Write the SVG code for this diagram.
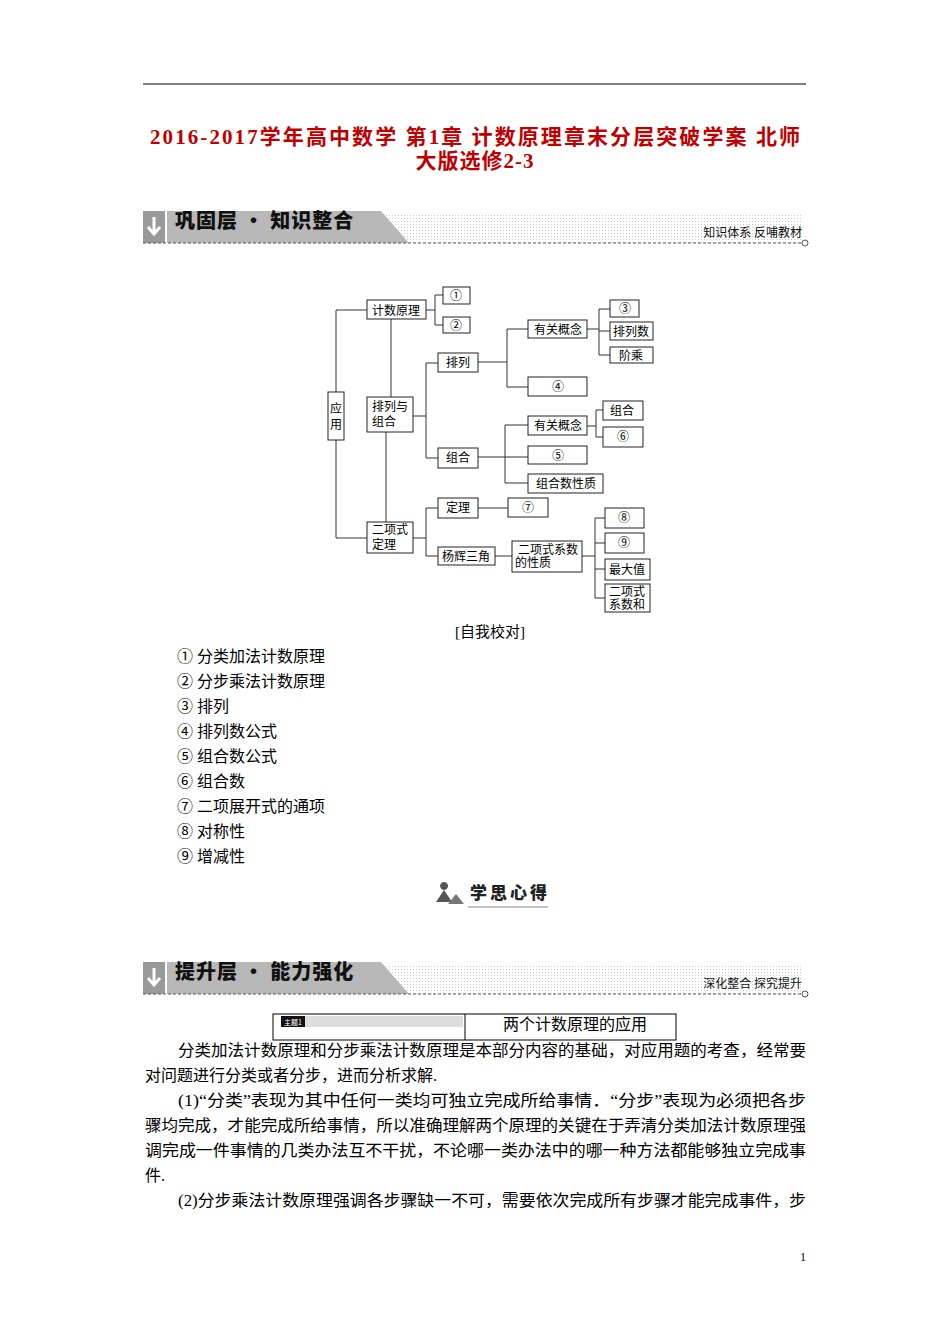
<svg xmlns="http://www.w3.org/2000/svg" width="950" height="1344" viewBox="0 0 950 1344">
<style>
.t{font-family:"Liberation Serif","Noto Sans CJK SC",serif;fill:#000}
.p{font-size:16px}
.n rect{fill:#fff;stroke:#222;stroke-width:1}
.n text{font-family:"Liberation Serif","Noto Sans CJK SC",serif;font-size:12px;fill:#000;text-anchor:middle}
#connectors path{fill:none;stroke:#333;stroke-width:1}
.bn{font-family:"Noto Sans CJK SC",sans-serif;font-weight:900;font-size:20px;fill:#111}
.bs{font-family:"Noto Sans CJK SC",sans-serif;font-size:12px;fill:#111}
</style>
<defs>
<pattern id="dots" width="3" height="3" patternUnits="userSpaceOnUse"><rect width="3" height="3" fill="#fff"/><rect width="1" height="1" fill="#ccc"/></pattern>
<g id="banner">
<rect x="0" y="6" width="660" height="28" fill="url(#dots)"/>
<rect x="0" y="2" width="22" height="32" fill="#9a9a9a"/>
<path d="M11 8v16M5 18l6 7 6-7" stroke="#fff" stroke-width="3" fill="none"/>
<path d="M24 2H238L266 34H24Z" fill="#b8b8b8"/>
<line x1="0" y1="34" x2="658" y2="34" stroke="#555" stroke-dasharray="3,2"/>
<circle cx="662" cy="34" r="3" fill="#fff" stroke="#555"/>
</g>
</defs>
<rect width="950" height="1344" fill="#fff"/>
<line x1="143" y1="84" x2="806" y2="84" stroke="#000"/>
<text class="t" x="150" y="144" font-size="21" font-weight="bold" style="fill:#c00000" textLength="650" lengthAdjust="spacing">2016-2017学年高中数学 第1章 计数原理章末分层突破学案 北师</text>
<text class="t" x="475" y="168" font-size="21" font-weight="bold" style="fill:#c00000" text-anchor="middle" letter-spacing="1">大版选修2-3</text>

<g id="banner1"><use href="#banner" x="143" y="209"/>
<text class="bn" x="175" y="228" letter-spacing="1">巩固层 · 知识整合</text>
<text class="bs" x="802" y="237" text-anchor="end">知识体系  反哺教材</text></g>

<g id="connectors">
<path d="M367 310H336V538H367"/>
<path d="M391 319V397M386 432V522"/>
<path d="M426 310H435M443 295H435V325H443"/>
<path d="M413 416H426M438 363H426V458H438"/>
<path d="M478 362H507M528 329H507V387H528"/>
<path d="M587 329H599M610 309H599V355H610M599 331H610"/>
<path d="M478 457H528M528 425H505V483H528"/>
<path d="M587 426H596M603 410H596V437H603"/>
<path d="M413 538H426M438 508H426V556H438"/>
<path d="M478 508H508M495 556H512"/>
<path d="M582 556H595M605 518H595V598H605M595 543H605M595 569H605"/>
</g>

<g id="yingyong" class="n"><rect x="328" y="392" width="16" height="48"/><text x="336" y="413">应</text><text x="336" y="429">用</text></g>
<g id="jishu" class="n"><rect x="367" y="300" width="59" height="19"/><text x="396" y="315">计数原理</text></g>
<g id="c1" class="n"><rect x="443" y="287" width="27" height="17"/><text x="456" y="300">①</text></g>
<g id="c2" class="n"><rect x="443" y="317" width="27" height="16"/><text x="456" y="330">②</text></g>
<g id="pailiezuhe" class="n"><rect x="367" y="397" width="46" height="35"/><text x="390" y="411">排列与</text><text x="384" y="426">组合</text></g>
<g id="erxiang" class="n"><rect x="367" y="522" width="46" height="31"/><text x="390" y="534">二项式</text><text x="384" y="549">定理</text></g>
<g id="pailie" class="n"><rect x="438" y="353" width="40" height="19"/><text x="458" y="367">排列</text></g>
<g id="zuhe" class="n"><rect x="438" y="448" width="40" height="20"/><text x="458" y="462">组合</text></g>
<g id="gainian1" class="n"><rect x="528" y="320" width="59" height="18"/><text x="558" y="334">有关概念</text></g>
<g id="c4" class="n"><rect x="528" y="377" width="59" height="19"/><text x="558" y="391">④</text></g>
<g id="c3" class="n"><rect x="610" y="300" width="29" height="17"/><text x="625" y="313">③</text></g>
<g id="pailieshu" class="n"><rect x="610" y="322" width="43" height="18"/><text x="631" y="336">排列数</text></g>
<g id="jiecheng" class="n"><rect x="610" y="347" width="43" height="16"/><text x="631" y="360">阶乘</text></g>
<g id="gainian2" class="n"><rect x="528" y="416" width="59" height="19"/><text x="558" y="430">有关概念</text></g>
<g id="zuhe2" class="n"><rect x="603" y="401" width="40" height="19"/><text x="622" y="415">组合</text></g>
<g id="c6" class="n"><rect x="603" y="427" width="40" height="20"/><text x="623" y="441">⑥</text></g>
<g id="c5" class="n"><rect x="528" y="446" width="59" height="18"/><text x="558" y="460">⑤</text></g>
<g id="zuheshu" class="n"><rect x="528" y="474" width="75" height="19"/><text x="566" y="488">组合数性质</text></g>
<g id="dingli" class="n"><rect x="438" y="498" width="40" height="20"/><text x="458" y="512">定理</text></g>
<g id="c7" class="n"><rect x="508" y="498" width="40" height="19"/><text x="528" y="512">⑦</text></g>
<g id="yanghui" class="n"><rect x="438" y="547" width="57" height="18"/><text x="466" y="561">杨辉三角</text></g>
<g id="xishu" class="n"><rect x="512" y="541" width="70" height="31"/><text x="548" y="554">二项式系数</text><text x="533" y="567">的性质</text></g>
<g id="c8" class="n"><rect x="605" y="508" width="39" height="20"/><text x="624" y="522">⑧</text></g>
<g id="c9" class="n"><rect x="605" y="533" width="39" height="20"/><text x="624" y="547">⑨</text></g>
<g id="zuida" class="n"><rect x="605" y="559" width="45" height="21"/><text x="627" y="574">最大值</text></g>
<g id="xishuhe" class="n"><rect x="605" y="584" width="45" height="28"/><text x="627" y="596">二项式</text><text x="627" y="609">系数和</text></g>

<g class="t p">
<text x="490" y="637" text-anchor="middle" font-size="15">[自我校对]</text>
<text x="177" y="662">① 分类加法计数原理</text>
<text x="177" y="687">② 分步乘法计数原理</text>
<text x="177" y="712">③ 排列</text>
<text x="177" y="737">④ 排列数公式</text>
<text x="177" y="762">⑤ 组合数公式</text>
<text x="177" y="787">⑥ 组合数</text>
<text x="177" y="812">⑦ 二项展开式的通项</text>
<text x="177" y="837">⑧ 对称性</text>
<text x="177" y="862">⑨ 增减性</text>
</g>

<g id="xuesi">
<path d="M436 902l8-12 8 12zM444 882a4 4 0 1 0 0.1 0" fill="#555"/>
<path d="M448 904l8-10 8 10z" fill="#777"/>
<text x="470" y="899" font-family="Noto Sans CJK SC,sans-serif" font-weight="900" font-size="17" fill="#222" letter-spacing="3">学思心得</text>
<line x1="468" y1="907" x2="548" y2="907" stroke="#888"/>
</g>

<g id="banner2"><use href="#banner" x="143" y="960"/>
<text class="bn" x="175" y="979" letter-spacing="1">提升层 · 能力强化</text>
<text class="bs" x="802" y="988" text-anchor="end">深化整合  探究提升</text></g>

<g id="table">
<rect x="273" y="1014" width="403" height="26" fill="#fff" stroke="#000"/>
<line x1="465" y1="1014" x2="465" y2="1040" stroke="#000"/>
<rect x="281" y="1016" width="182" height="11" fill="#ddd"/>
<rect x="281" y="1016" width="24" height="11" fill="#111"/>
<text x="284" y="1025" font-family="Noto Sans CJK SC,sans-serif" font-size="7" fill="#fff">主题1</text>
<text class="t" x="575" y="1030" font-size="16" text-anchor="middle">两个计数原理的应用</text>
</g>

<g class="t p">
<text x="178" y="1056" textLength="628" lengthAdjust="spacingAndGlyphs">分类加法计数原理和分步乘法计数原理是本部分内容的基础，对应用题的考查，经常要</text>
<text x="145" y="1081">对问题进行分类或者分步，进而分析求解.</text>
<text x="178" y="1106" textLength="628" lengthAdjust="spacingAndGlyphs">(1)“分类”表现为其中任何一类均可独立完成所给事情．“分步”表现为必须把各步</text>
<text x="145" y="1131" textLength="661" lengthAdjust="spacingAndGlyphs">骤均完成，才能完成所给事情，所以准确理解两个原理的关键在于弄清分类加法计数原理强</text>
<text x="145" y="1156" textLength="661" lengthAdjust="spacingAndGlyphs">调完成一件事情的几类办法互不干扰，不论哪一类办法中的哪一种方法都能够独立完成事</text>
<text x="145" y="1181">件.</text>
<text x="178" y="1206" textLength="628" lengthAdjust="spacingAndGlyphs">(2)分步乘法计数原理强调各步骤缺一不可，需要依次完成所有步骤才能完成事件，步</text>
<text x="803" y="1261" font-size="12" text-anchor="middle">1</text>
</g>
</svg>
